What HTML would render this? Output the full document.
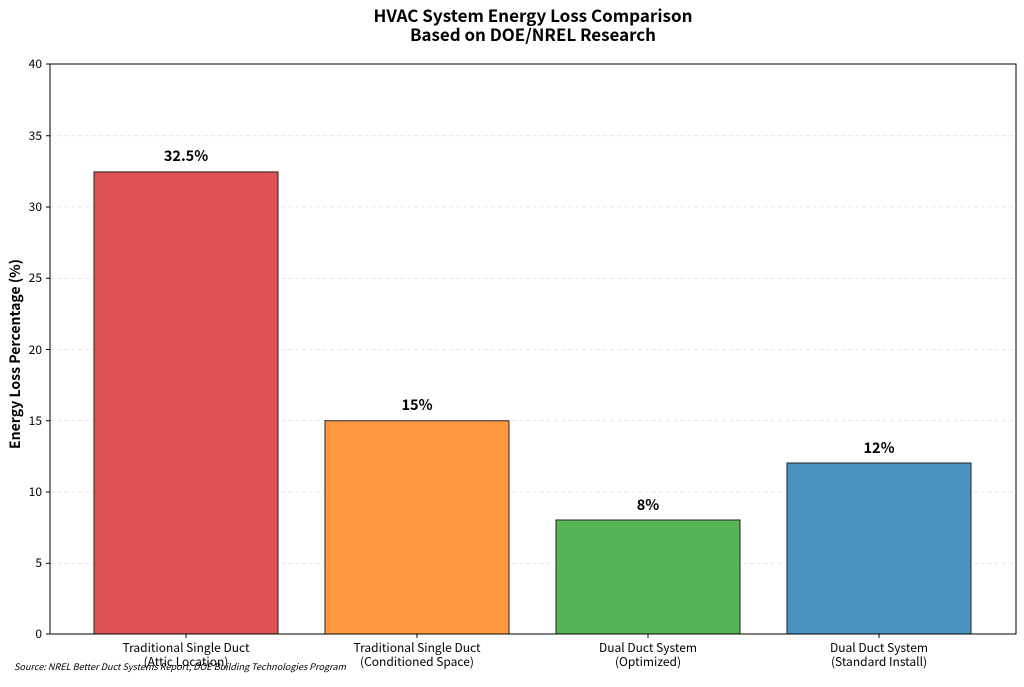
<!DOCTYPE html>
<html><head><meta charset="utf-8"><style>
body{margin:0;background:#fff}
svg text{font-family:"Noto Sans CJK JP","DejaVu Sans",sans-serif;fill:#000}
</style></head><body>
<svg width="1024" height="682" viewBox="0 0 1024 682" xmlns="http://www.w3.org/2000/svg">
<text x="533" y="22" font-size="16.5" font-weight="bold" text-anchor="middle" textLength="319" lengthAdjust="spacingAndGlyphs">HVAC System Energy Loss Comparison</text>
<text x="533" y="41" font-size="16.5" font-weight="bold" text-anchor="middle" textLength="246" lengthAdjust="spacingAndGlyphs">Based on DOE/NREL Research</text>
<g stroke="#ddd" stroke-dasharray="4,3" stroke-width="0.8">
<line x1="50" x2="1016" y1="563.25" y2="563.25"/><line x1="50" x2="1016" y1="492" y2="492"/>
<line x1="50" x2="1016" y1="420.75" y2="420.75"/><line x1="50" x2="1016" y1="349.5" y2="349.5"/>
<line x1="50" x2="1016" y1="278.25" y2="278.25"/><line x1="50" x2="1016" y1="207" y2="207"/>
<line x1="50" x2="1016" y1="135.75" y2="135.75"/>
</g>
<g stroke="#222" stroke-width="1">
<rect x="94" y="171.9" width="184" height="462.1" fill="#de5253"/>
<rect x="325" y="420.75" width="184" height="213.25" fill="#ff993e"/>
<rect x="556" y="520" width="184" height="114" fill="#56b356"/>
<rect x="787" y="463" width="184" height="171" fill="#4c92c3"/>
</g>
<rect x="50" y="64" width="966" height="570" fill="none" stroke="#000" stroke-width="1"/>
<g font-size="14.5" font-weight="bold" text-anchor="middle">
<text x="186" y="161">32.5%</text><text x="417" y="410">15%</text>
<text x="648" y="510">8%</text><text x="879" y="453">12%</text>
</g>
<g font-size="12" text-anchor="end">
<text x="42" y="638">0</text><text x="42" y="567">5</text><text x="42" y="496">10</text>
<text x="42" y="425">15</text><text x="42" y="354">20</text><text x="42" y="282">25</text>
<text x="42" y="211">30</text><text x="42" y="140">35</text><text x="42" y="68">40</text>
</g>
<g stroke="#000"><line x1="46" x2="50" y1="634" y2="634"/><line x1="46" x2="50" y1="563.25" y2="563.25"/><line x1="46" x2="50" y1="492" y2="492"/><line x1="46" x2="50" y1="420.75" y2="420.75"/><line x1="46" x2="50" y1="349.5" y2="349.5"/><line x1="46" x2="50" y1="278.25" y2="278.25"/><line x1="46" x2="50" y1="207" y2="207"/><line x1="46" x2="50" y1="135.75" y2="135.75"/><line x1="46" x2="50" y1="64" y2="64"/>
<line x1="186" x2="186" y1="634" y2="638"/><line x1="417" x2="417" y1="634" y2="638"/><line x1="648" x2="648" y1="634" y2="638"/><line x1="879" x2="879" y1="634" y2="638"/></g>
<text transform="translate(20,354) rotate(-90)" font-size="14" font-weight="bold" text-anchor="middle" textLength="190" lengthAdjust="spacingAndGlyphs">Energy Loss Percentage (%)</text>
<g font-size="12" text-anchor="middle">
<text x="186" y="652">Traditional Single Duct</text><text x="186" y="666">(Attic Location)</text>
<text x="417" y="652">Traditional Single Duct</text><text x="417" y="666">(Conditioned Space)</text>
<text x="648" y="652">Dual Duct System</text><text x="648" y="666">(Optimized)</text>
<text x="879" y="652">Dual Duct System</text><text x="879" y="666">(Standard Install)</text>
</g>
<text x="14" y="670" font-size="9" font-style="italic" textLength="332" lengthAdjust="spacingAndGlyphs">Source: NREL Better Duct Systems Report, DOE Building Technologies Program</text>
</svg>
</body></html>
